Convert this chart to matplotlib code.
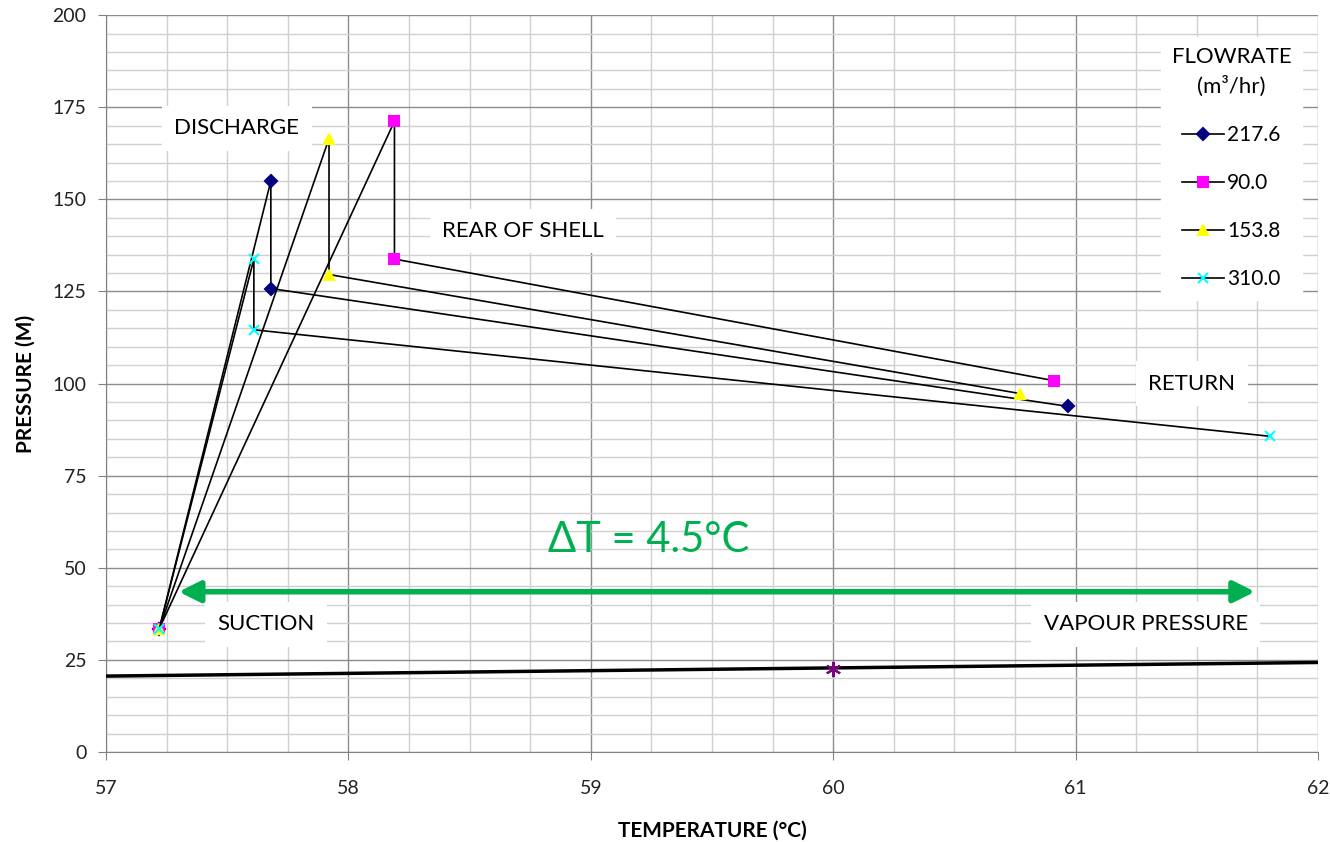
import matplotlib
matplotlib.use("Agg")
import matplotlib.pyplot as plt
from matplotlib.ticker import MultipleLocator

plt.rcParams['font.family'] = ['Lato', 'DejaVu Sans']

# Data: points in order suction, discharge, rear of shell, return
flowrates = ["217.6", "90.0", "153.8", "310.0"]
temp_217 = [57.22, 57.68, 57.68, 60.97]
pres_217 = [33.5, 155.0, 125.8, 93.8]
temp_90 = [57.22, 58.19, 58.19, 60.91]
pres_90 = [33.5, 171.2, 133.8, 100.8]
temp_153 = [57.22, 57.92, 57.92, 60.77]
pres_153 = [33.5, 166.5, 129.6, 97.3]
temp_310 = [57.22, 57.61, 57.61, 61.80]
pres_310 = [33.5, 133.8, 114.6, 85.7]

vap_temp = [57.0, 62.0]
vap_pres = [20.6, 24.3]
vap_point_t = [60.0]
vap_point_p = [22.6]

fig = plt.figure(figsize=(13.3, 8.42), dpi=100)
ax = fig.add_axes([0.0797, 0.1069, 0.9113, 0.8751])

ax.set_xlim(57, 62)
ax.set_ylim(0, 200)
ax.xaxis.set_major_locator(MultipleLocator(1))
ax.xaxis.set_minor_locator(MultipleLocator(0.25))
ax.yaxis.set_major_locator(MultipleLocator(25))
ax.yaxis.set_minor_locator(MultipleLocator(5))
ax.grid(which='major', color='#8c8c8c', lw=1.0, zorder=0)
ax.grid(which='minor', color='#d0d0d0', lw=1.0, zorder=0)
ax.set_axisbelow(True)
for s in ['top', 'right']:
    ax.spines[s].set_visible(False)
for s in ['left', 'bottom']:
    ax.spines[s].set_color('#808080')
ax.tick_params(which='major', direction='out', length=6, color='#808080', labelsize=14, pad=8)
ax.tick_params(axis='x', which='major', pad=14)
ax.tick_params(which='minor', length=0)
for lab in ax.get_xticklabels() + ax.get_yticklabels():
    lab.set_color('#222222')

ax.set_xlabel('TEMPERATURE (°C)', fontsize=15, fontweight='bold', labelpad=17)
ax.set_ylabel('PRESSURE (M)', fontsize=15, fontweight='bold', labelpad=12)

# vapour pressure line
ax.plot(vap_temp, vap_pres, color='black', lw=2.5, zorder=3)
ax.plot(vap_point_t, vap_point_p, linestyle='none', marker=(6, 2, 0), markersize=11,
        markeredgecolor='#7f007f', markeredgewidth=1.5, zorder=4)

series = [
    (temp_217, pres_217, 'D', '#00007f', 6),
    (temp_90, pres_90, 's', '#ff00ff', 7),
    (temp_153, pres_153, '^', '#ffff00', 7),
    (temp_310, pres_310, 'x', '#00ffff', 7),
]
handles = []
for (t, p, m, c, ms), lab in zip(series, flowrates):
    h, = ax.plot(t, p, color='black', lw=1.2, marker=m, markersize=ms,
                 markerfacecolor=c, markeredgecolor=c, markeredgewidth=1.5,
                 label=lab, zorder=5)
    handles.append(h)

leg = ax.legend(handles=handles, title='FLOWRATE\n(m³/hr)', loc='upper right',
                bbox_to_anchor=(0.995, 0.985), frameon=True, fontsize=15,
                title_fontsize=16, labelspacing=1.35, handlelength=2.0,
                handletextpad=0.15, borderpad=0.5)
leg.get_frame().set_facecolor('white')
leg.get_frame().set_edgecolor('white')
leg.get_frame().set_alpha(1)
leg.get_title().set_multialignment('center')
leg.get_title().set_linespacing(1.5)

box = dict(facecolor='white', edgecolor='none', pad=9)
fs = 16
ax.text(57.54, 169.3, 'DISCHARGE', fontsize=fs, ha='center', va='center', bbox=box, zorder=6)
ax.text(58.72, 141.4, 'REAR OF SHELL', fontsize=fs, ha='center', va='center', bbox=box, zorder=6)
ax.text(61.48, 99.9, 'RETURN', fontsize=fs, ha='center', va='center', bbox=box, zorder=6)
ax.text(57.66, 34.7, 'SUCTION', fontsize=fs, ha='center', va='center', bbox=box, zorder=6)
ax.text(61.29, 34.7, 'VAPOUR PRESSURE', fontsize=fs, ha='center', va='center', bbox=box, zorder=6)

# Delta T arrow
ax.annotate('', xy=(61.74, 43.5), xytext=(57.30, 43.5),
            arrowprops=dict(arrowstyle='<|-|>', color='#00b050', lw=4,
                            mutation_scale=32, shrinkA=0, shrinkB=0), zorder=6)
ax.text(59.24, 57.5, 'ΔT = 4.5°C', fontsize=30, color='#00b050', ha='center', va='center', zorder=6)

fig.savefig('out.png', dpi=100)
